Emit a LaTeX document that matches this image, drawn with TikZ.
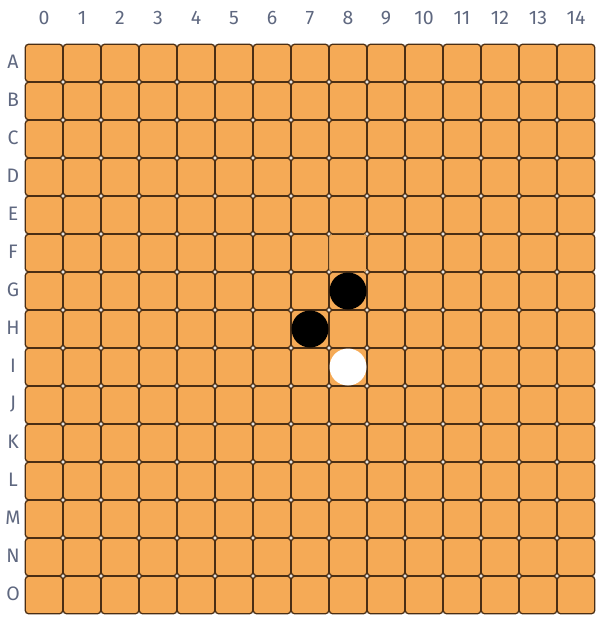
\documentclass[tikz,border=0pt]{standalone}
\usepackage{fontspec}
\setmainfont{Fira Sans}
\definecolor{cellfill}{HTML}{F5AA56}
\definecolor{celledge}{HTML}{4A2E14}
\definecolor{lastedge}{HTML}{C9995E}
\definecolor{labelgray}{HTML}{5F6880}
\tikzset{
  cell/.style={draw=celledge, fill=cellfill, line width=1.3pt, rounded corners=3.5pt, minimum size=37.6pt, inner sep=0pt},
  lastcell/.style={cell, draw=lastedge, line width=0.8pt},
  lbl/.style={text=labelgray, font=\fontsize{19.5pt}{19.5pt}\selectfont, inner sep=0pt},
  blackstone/.style={circle, fill=black, minimum size=37pt, inner sep=0pt},
  whitestone/.style={circle, fill=white, minimum size=37pt, inner sep=0pt},
}
\begin{document}
\begin{tikzpicture}[x=1pt,y=-1pt]
\useasboundingbox[fill=white] (0,0) rectangle (602,622);
\foreach \c in {0,...,14} {
  \node[lbl] (col\c) at ({44+38*\c},18) {\c};
}
\foreach \r/\L in {0/A,1/B,2/C,3/D,4/E,5/F,6/G,7/H,8/I,9/J,10/K,11/L,12/M,13/N,14/O} {
  \node[lbl] (row\L) at (13,{62+38*\r}) {\L};
  \foreach \c in {0,...,14} {
    \node[cell] (c\L\c) at ({44+38*\c},{63+38*\r}) {};
  }
}
% last move highlight
\node[lastcell] (last) at (cF8) {};
\draw[celledge, line width=1.3pt] ([xshift=3pt]cE8.south west) -- ([xshift=-3pt]cE8.south east);
\draw[celledge, line width=1.3pt] ([yshift=-3pt]cF9.north west) -- ([yshift=3pt]cF9.south west);
\draw[celledge, line width=1.3pt] ([xshift=3pt]cG8.north west) -- ([xshift=-3pt]cG8.north east);
% stones
\node[blackstone] (s1) at (cG8) {};
\node[blackstone] (s2) at (cH7) {};
\node[whitestone] (s3) at (cI8) {};
\end{tikzpicture}
\end{document}
